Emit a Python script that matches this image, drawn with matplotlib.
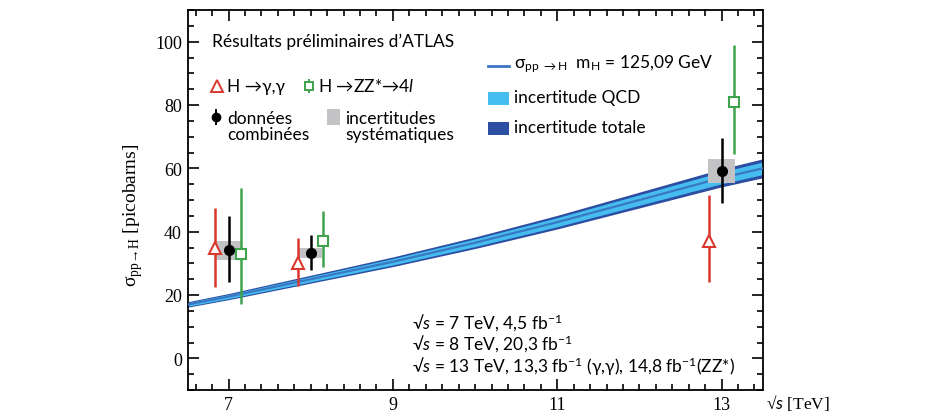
import matplotlib
matplotlib.use("Agg")
import matplotlib.pyplot as plt
import numpy as np
from matplotlib.ticker import MultipleLocator, FixedLocator

# ---------------- data ----------------
theory_sqrts = [6.5, 7.0, 8.0, 9.0, 10.0, 11.0, 12.0, 13.0, 13.5]
theory_sigma = [17.0, 19.5, 25.0, 30.5, 36.5, 43.0, 50.0, 57.0, 60.0]
qcd_rel = 0.033
tot_rel = 0.05

# H -> gamma gamma
gg_x = [6.84, 7.85, 12.85]
gg_y = [35.0, 30.0, 37.0]
gg_lo = [12.5, 7.0, 12.8]
gg_hi = [12.5, 8.0, 14.6]

# H -> ZZ* -> 4l
zz_x = [7.15, 8.15, 13.15]
zz_y = [33.0, 37.0, 81.0]
zz_lo = [15.8, 8.2, 16.5]
zz_hi = [20.7, 9.4, 18.0]

# combined
cb_x = [7.0, 8.0, 13.0]
cb_y = [34.2, 33.2, 59.1]
cb_lo = [10.2, 5.2, 10.1]
cb_hi = [10.8, 5.8, 10.4]
cb_syst = [3.0, 1.5, 3.8]
syst_halfwidth = [0.15, 0.14, 0.16]

xticks = [7, 9, 11, 13]
yticks = [0, 20, 40, 60, 80, 100]

# ---------------- style ----------------
RED = "#d9382e"
GREEN = "#3fa34d"
GRAY = "#c3c3c6"
LIGHT = "#45bdee"
DARK = "#2d4fa3"
MID = "#3a78c4"
SANS = ["Lato", "DejaVu Sans"]
SERIF = ["Liberation Serif", "DejaVu Serif"]

plt.rcParams["mathtext.fontset"] = "custom"
plt.rcParams["mathtext.rm"] = "Lato"
plt.rcParams["mathtext.it"] = "Lato:italic"
plt.rcParams["mathtext.bf"] = "Lato:bold"

W, H = 934, 414
fig = plt.figure(figsize=(W / 100, H / 100), dpi=100)
L, R, T, B = 187.5, 762.7, 11, 391
ax = fig.add_axes([L / W, 1 - B / H, (R - L) / W, (B - T) / H])
ax.set_xlim(6.5, 13.5)
ax.set_ylim(-10, 110)

# theory band
xs = np.array(theory_sqrts)
ys = np.array(theory_sigma)
ax.fill_between(xs, ys * (1 - tot_rel), ys * (1 + tot_rel), color=DARK, lw=0, zorder=1)
ax.fill_between(xs, ys * (1 - qcd_rel), ys * (1 + qcd_rel), color=LIGHT, lw=0, zorder=2)
ax.plot(xs, ys, color=MID, lw=1.6, zorder=3)

# systematic boxes
for x, y, s, hw in zip(cb_x, cb_y, cb_syst, syst_halfwidth):
    ax.add_patch(plt.Rectangle((x - hw, y - s), 2 * hw, 2 * s, color=GRAY, lw=0, zorder=4))

# error bars
ax.errorbar(gg_x, gg_y, yerr=[gg_lo, gg_hi], fmt="none", ecolor=RED, elinewidth=1.8, zorder=5)
ax.plot(gg_x, gg_y, ls="none", marker="^", ms=9, mfc="white", mec=RED, mew=1.5, zorder=6)
ax.errorbar(zz_x, zz_y, yerr=[zz_lo, zz_hi], fmt="none", ecolor=GREEN, elinewidth=1.8, zorder=5)
ax.plot(zz_x, zz_y, ls="none", marker="s", ms=7, mfc="white", mec=GREEN, mew=1.5, zorder=6)
ax.errorbar(cb_x, cb_y, yerr=[cb_lo, cb_hi], fmt="none", ecolor="black", elinewidth=1.8, zorder=5)
ax.plot(cb_x, cb_y, ls="none", marker="o", ms=7, color="black", zorder=6)

# axes styling
ax.xaxis.set_major_locator(FixedLocator(xticks))
ax.xaxis.set_minor_locator(MultipleLocator(0.2))
ax.yaxis.set_major_locator(FixedLocator(yticks))
ax.yaxis.set_minor_locator(MultipleLocator(5))
ax.tick_params(which="both", direction="in", top=True, right=True, width=1.2)
ax.tick_params(which="major", length=8, labelsize=13, pad=4)
ax.tick_params(which="minor", length=4)
for lab in ax.get_xticklabels() + ax.get_yticklabels():
    lab.set_family(SERIF)
for sp in ax.spines.values():
    sp.set_linewidth(1.3)

fig.text(133 / W, 1 - 215 / H, r"σ$_{\mathregular{pp\!\rightarrow\! H}}$ [picobarns]",
         rotation=90, ha="center", va="center", fontsize=14, family=SERIF)
fig.text(766 / W, 1 - 403 / H, r"√$s$ [TeV]", ha="left", va="center", fontsize=12.5,
         family=SERIF)

def px(x, y):
    return x / W, 1 - y / H

tf = fig.transFigure
fs = 12.5
fig.text(*px(212, 42), "Résultats préliminaires d’ATLAS", fontsize=fs, family=SANS, va="center")

# left legend
ax.plot(*px(217, 87), marker="^", ms=8, mfc="white", mec=RED, mew=1.4, transform=tf)
fig.text(*px(227, 87), "H →γ,γ", fontsize=fs, family=SANS, va="center")
ax.plot([309 / W, 309 / W], [1 - 81 / H, 1 - 93 / H], color=GREEN, lw=1.4, transform=tf)
ax.plot(*px(309, 87), marker="s", ms=6, mfc="white", mec=GREEN, mew=1.4, transform=tf)
fig.text(*px(318, 87), r"H →ZZ*→4$l$", fontsize=fs, family=SANS, va="center")

ax.plot([216 / W, 216 / W], [1 - 111 / H, 1 - 125 / H], color="black", lw=1.4, transform=tf)
ax.plot(*px(216, 118), marker="o", ms=6, color="black", transform=tf)
fig.text(*px(227, 127), "données\ncombinées", fontsize=fs, family=SANS, va="center",
         linespacing=0.95)
fig.patches.append(plt.Rectangle(px(327, 126), 13 / W, 16 / H, color=GRAY, lw=0,
                                 transform=tf, figure=fig))
fig.text(*px(345, 127), "incertitudes\nsystématiques", fontsize=fs, family=SANS,
         va="center", linespacing=0.95)

# right legend
ax.plot([488 / W, 509 / W], [1 - 67 / H, 1 - 67 / H], color=MID, lw=2, transform=tf)
fig.text(*px(514, 64),
         r"σ$_{\mathregular{pp\ \rightarrow H}}$  m$_{\mathregular{H}}$ = 125,09 GeV",
         fontsize=fs, family=SANS, va="center")
fig.patches.append(plt.Rectangle(px(488, 106), 21 / W, 13 / H, color=LIGHT, lw=0,
                                 transform=tf, figure=fig))
fig.text(*px(514, 98), "incertitude QCD", fontsize=fs, family=SANS, va="center")
fig.patches.append(plt.Rectangle(px(488, 136), 21 / W, 13 / H, color=DARK, lw=0,
                                 transform=tf, figure=fig))
fig.text(*px(514, 128), "incertitude totale", fontsize=fs, family=SANS, va="center")

# bottom info
fig.text(*px(412, 323), r"√$s$ = 7 TeV, 4,5 fb$^{-1}$", fontsize=fs, family=SANS, va="center")
fig.text(*px(412, 344), r"√$s$ = 8 TeV, 20,3 fb$^{-1}$", fontsize=fs, family=SANS, va="center")
fig.text(*px(412, 367), r"√$s$ = 13 TeV, 13,3 fb$^{-1}$ (γ,γ), 14,8 fb$^{-1}$(ZZ*)",
         fontsize=fs, family=SANS, va="center")

fig.savefig("out.png", dpi=100)
